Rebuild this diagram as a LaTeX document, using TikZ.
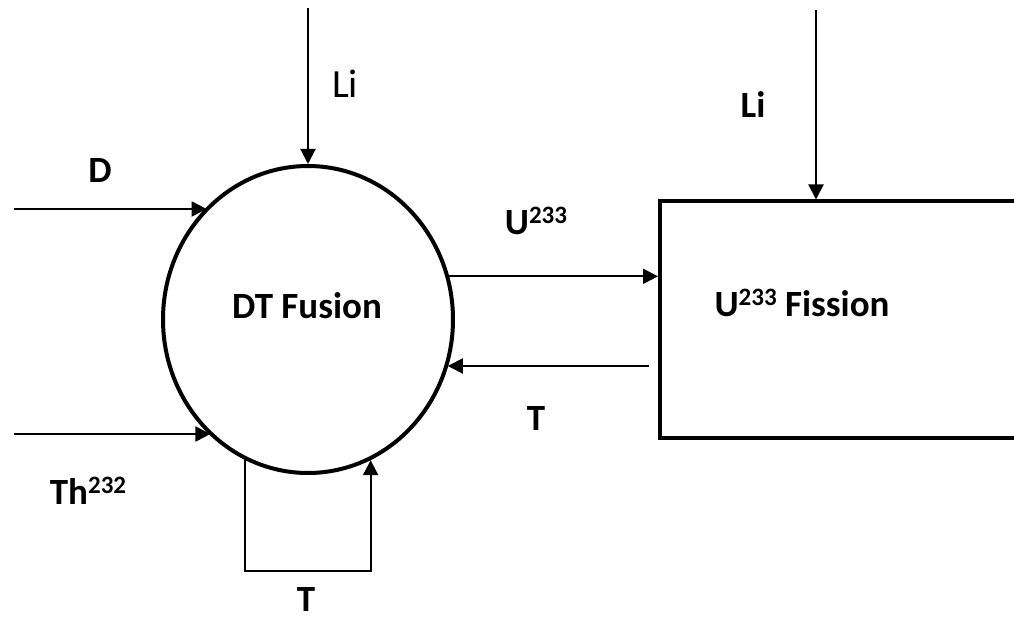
\documentclass[tikz,border=0pt]{standalone}
\usepackage{fontspec}
\setmainfont{Carlito}
\usetikzlibrary{arrows.meta, shapes.geometric}

\newcommand{\iso}[1]{\raisebox{5.5pt}{\fontsize{12.5}{13}\selectfont #1}}

\begin{document}
\begin{tikzpicture}[x=0.5pt, y=-0.5pt,
    >={Triangle[length=7.5pt, width=7.5pt]},
    flow/.style={->, line width=1pt},
    lbl/.style={font=\fontsize{18.5}{22}\selectfont\bfseries, inner sep=0pt, anchor=base}]
    \useasboundingbox (0,0) rectangle (1014,620);
    \clip (0,0) rectangle (1014,620);

    % The fusion stage
    \node[ellipse, draw, line width=2pt, inner sep=0pt, minimum width=145pt, minimum height=153.5pt] (fus) at (308,319.5) {};
    \node[lbl] (fustxt) at (307,319) {DT Fusion};

    % The fission stage, cut off on the right
    \node[draw, line width=2pt, inner sep=0pt, minimum width=190pt, minimum height=118.25pt, anchor=north west] (fis) at (658,199.5) {};
    \node[lbl] (fistxt) at (802,316.7) {U\iso{233} Fission};

    % Free ends of the feeds
    \coordinate (lia) at (308,8);
    \coordinate (lib) at (816,10);
    \coordinate (dsrc) at (14,209);
    \coordinate (thsrc) at (14,434);
    \coordinate (tsrc) at (649,366);
    \coordinate (tloop) at (300,571);

    % Flows
    \draw[flow] (lia) -- (fus.north);
    \draw[flow] (lib) -- (lib |- fis.north);
    \draw[flow] (dsrc) -- (fus.132 |- dsrc);
    \draw[flow] (thsrc) -- (fus.230 |- thsrc);
    \draw[flow] (fus.17) -- (fus.17 -| fis.west);
    \draw[flow] (tsrc) -- (fus.341 |- tsrc);
    \draw[flow] (fus.246) |- (tloop) -| (fus.294);

    % Labels
    \node[lbl] (dlbl) at (100,183) {D};
    \node[lbl] (thlbl) at (88,505) {Th\iso{232}};
    \node[lbl, font=\fontsize{20}{24}\selectfont] (lialbl) at (345,98) {Li};
    \node[lbl] (liblbl) at (753,118) {Li};
    \node[lbl] (ulbl) at (536,235) {U\iso{233}};
    \node[lbl] (tlbl) at (536,430.7) {T};
    \node[lbl] (tlooplbl) at (306,612) {T};
\end{tikzpicture}
\end{document}
